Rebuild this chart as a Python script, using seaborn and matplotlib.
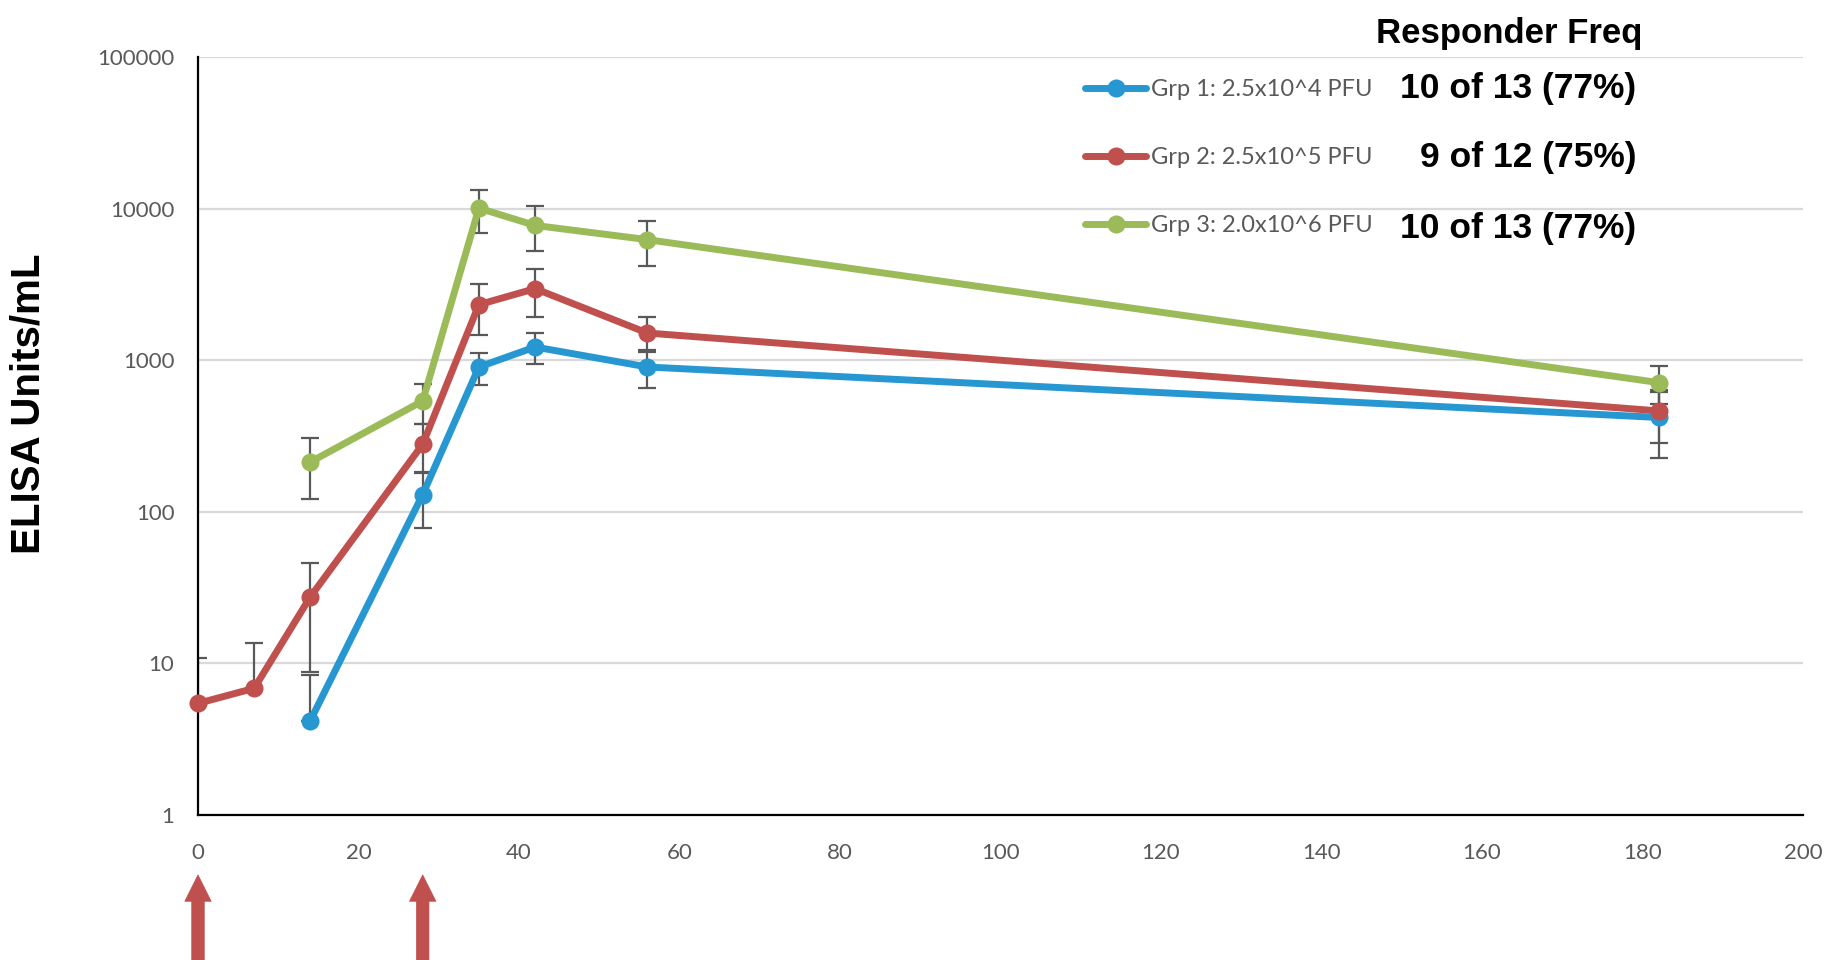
import numpy as np
import pandas as pd
import seaborn as sns
import matplotlib.pyplot as plt
from matplotlib.ticker import FixedLocator, FuncFormatter

# ELISA titres by study day
grp1_days = [14, 28, 35, 42, 56, 182]
grp1_mean = [4.2, 130, 902, 1222, 902, 419]
grp1_lo = [4.2, 78, 687, 940, 659, 225]
grp1_hi = [8.4, 182, 1122, 1511, 1162, 617]

grp2_days = [0, 7, 14, 28, 35, 42, 56, 182]
grp2_mean = [5.45, 6.85, 27.5, 279, 2325, 2965, 1511, 463]
grp2_lo = [5.45, 6.85, 8.8, 180, 1460, 1928, 1133, 286]
grp2_hi = [10.9, 13.7, 46, 378, 3200, 4015, 1928, 640]

grp3_days = [14, 28, 35, 42, 56, 182]
grp3_mean = [213, 538, 10070, 7745, 6240, 712]
grp3_lo = [121, 378, 6900, 5250, 4160, 512]
grp3_hi = [305, 693, 13200, 10330, 8270, 912]

group_names = ["Grp 1: 2.5x10^4 PFU", "Grp 2: 2.5x10^5 PFU", "Grp 3: 2.0x10^6 PFU"]
responders = ["10 of 13 (77%)", "9 of 12 (75%)", "10 of 13 (77%)"]
colors = ["#2697D1", "#C0504D", "#9BBB59"]
dose_days = [0, 28]

x_ticks = list(range(0, 201, 20))
y_ticks = [1, 10, 100, 1000, 10000, 100000]

sns.set_style("white")
plt.rcParams["font.family"] = ["Lato", "DejaVu Sans"]

fig = plt.figure(figsize=(18.28, 9.6), dpi=100)
ax = fig.add_axes([198 / 1828, 1 - 815 / 960, 1605 / 1828, 758 / 960])

groups = [
    (grp1_days, grp1_mean, grp1_lo, grp1_hi),
    (grp2_days, grp2_mean, grp2_lo, grp2_hi),
    (grp3_days, grp3_mean, grp3_lo, grp3_hi),
]

for (days, mean, lo, hi), name, col in zip(groups, group_names, colors):
    df = pd.DataFrame({"day": days, "elisa": mean})
    mean = np.array(mean)
    yerr = [mean - np.array(lo), np.array(hi) - mean]
    ax.errorbar(days, mean, yerr=yerr, fmt="none", ecolor="#595959",
                elinewidth=1.6, capsize=6.5, capthick=1.6, zorder=2)
    sns.lineplot(data=df, x="day", y="elisa", ax=ax, color=col, label=name,
                 linewidth=5, marker="o", markersize=13, markeredgewidth=0,
                 errorbar=None, clip_on=False, zorder=3)

ax.set_yscale("log")
ax.set_xlim(0, 200)
ax.set_ylim(1, 100000)
ax.xaxis.set_major_locator(FixedLocator(x_ticks))
ax.yaxis.set_major_locator(FixedLocator(y_ticks))
ax.yaxis.set_minor_locator(FixedLocator([]))
ax.yaxis.set_major_formatter(FuncFormatter(lambda v, p: f"{int(round(v))}"))
ax.grid(axis="y", color="#d9d9d9", linewidth=1.6)
ax.grid(axis="x", visible=False)
ax.set_axisbelow(True)
ax.tick_params(axis="both", length=0, labelsize=16, labelcolor="#595959")
ax.tick_params(axis="y", pad=17)
ax.tick_params(axis="x", pad=20)
ax.set_xlabel("")
ax.set_ylabel("")
for side in ["top", "right"]:
    ax.spines[side].set_visible(False)
for side in ["left", "bottom"]:
    ax.spines[side].set_color("black")
    ax.spines[side].set_linewidth(1.6)

leg = ax.legend(loc="upper left", bbox_to_anchor=(1085 / 1828, 1 - 79 / 960),
                bbox_transform=fig.transFigure, frameon=False, fontsize=17,
                handlelength=2.6, handletextpad=0.2, labelspacing=2.0,
                borderpad=0, borderaxespad=0)
for t in leg.get_texts():
    t.set_color("#595959")

bold = dict(family=["Liberation Sans", "DejaVu Sans"], weight="bold", color="black")
fig.text(1509 / 1828, 1 - 43 / 960, "Responder Freq", ha="center", va="baseline",
         fontsize=25, **bold)
for txt, base in zip(responders, [98.3, 166.7, 238]):
    fig.text(1636 / 1828, 1 - base / 960, txt, ha="right", va="baseline",
             fontsize=25.5, **bold)

fig.text(29 / 1828, 1 - 404 / 960, "ELISA Units/mL", rotation=90, ha="center",
         va="center", fontsize=29, **bold)

# vaccination days
for d in dose_days:
    ax.annotate("", xy=(d, -0.079), xytext=(d, -0.2),
                xycoords=("data", "axes fraction"), annotation_clip=False,
                arrowprops=dict(arrowstyle="simple,head_length=0.95,head_width=0.95,tail_width=0.45",
                                mutation_scale=20, facecolor="#C0504D", edgecolor="#C0504D",
                                linewidth=0.5, shrinkA=0, shrinkB=0))

fig.savefig("out.png", dpi=100)
